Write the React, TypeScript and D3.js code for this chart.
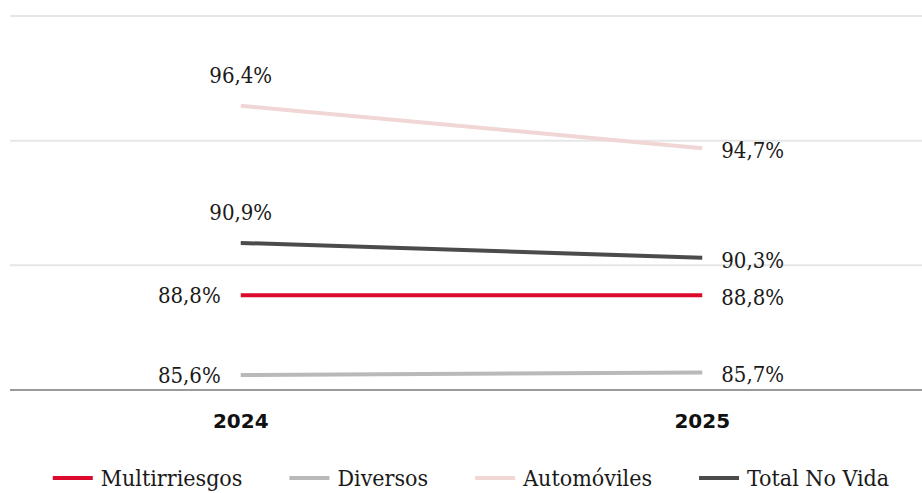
import React from "react";
import * as d3 from "d3";

const years = ["2024", "2025"];
const seriesNames = ["Multirriesgos", "Diversos", "Automóviles", "Total No Vida"];
const multirriesgos = [88.8, 88.8];
const diversos = [85.6, 85.7];
const automoviles = [96.4, 94.7];
const totalNoVida = [90.9, 90.3];
const gridTicks = [85, 90, 95, 100];

const seriesValues = [multirriesgos, diversos, automoviles, totalNoVida];
const colors = ["#dc0a2d", "#b9b9b9", "#f1d6d6", "#4b4b4b"];
const firstPlacement = ["left", "left", "above", "above"];

const W = 922;
const H = 493;
const serif = "'DejaVu Serif Condensed', 'DejaVu Serif', serif";
const sans = "'DejaVu Sans', sans-serif";

function measure(text: string, font: string): number {
  const c = document.createElement("canvas");
  const ctx = c.getContext("2d")!;
  ctx.font = font;
  return ctx.measureText(text).width;
}

export default function App() {
  const x = d3.scalePoint<string>().domain(years).range([10, 933]).padding(0.5);
  const y = d3.scaleLinear().domain([85, 100]).range([390, 16]);
  const line = d3
    .line<number>()
    .x((_, i) => x(years[i])!)
    .y((d) => y(d));
  const fmt = (v: number) => v.toFixed(1).replace(".", ",") + "%";

  const legendSize = 23;
  const legendFont = `${legendSize}px 'DejaVu Serif Condensed', 'DejaVu Serif'`;
  const sw = 40;
  const gapText = 8;
  const gapItem = 47;
  const widths = seriesNames.map((n) => sw + gapText + measure(n, legendFont));
  const total = d3.sum(widths) + gapItem * (seriesNames.length - 1);
  let cx = 471 - total / 2;
  const legendPos = widths.map((w) => {
    const p = cx;
    cx += w + gapItem;
    return p;
  });
  const legendBaseline = 486;
  const vs = 22;

  return (
    <svg width={W} height={H} style={{ position: "absolute", left: 0, top: 0 }}>
      <rect width={W} height={H} fill="#fff" />
      {gridTicks.map((t, i) => (
        <line
          key={t}
          x1={10}
          x2={W}
          y1={y(t)}
          y2={y(t)}
          stroke={i === 0 ? "#9a9a9a" : "#e6e6e6"}
          strokeWidth={2}
        />
      ))}
      {seriesValues.map((vals, si) => (
        <path key={si} d={line(vals) || ""} fill="none" stroke={colors[si]} strokeWidth={4} />
      ))}
      {seriesValues.map((vals, si) =>
        vals.map((v, i) => {
          const px = x(years[i])!;
          const py = y(v);
          if (i === 0) {
            if (firstPlacement[si] === "above") {
              return (
                <text key={`${si}-${i}`} x={px} y={py - 23} textAnchor="middle" fontFamily={serif} fontSize={vs} fill="#1a1a1a">
                  {fmt(v)}
                </text>
              );
            }
            return (
              <text key={`${si}-${i}`} x={px - 20} y={py} dy="0.35em" textAnchor="end" fontFamily={serif} fontSize={vs} fill="#1a1a1a">
                {fmt(v)}
              </text>
            );
          }
          return (
            <text key={`${si}-${i}`} x={px + 19} y={py + 2} dy="0.35em" textAnchor="start" fontFamily={serif} fontSize={vs} fill="#1a1a1a">
              {fmt(v)}
            </text>
          );
        })
      )}
      {years.map((yr) => (
        <text key={yr} x={x(yr)} y={428} textAnchor="middle" fontFamily={sans} fontWeight="bold" fontSize={20} fill="#111">
          {yr}
        </text>
      ))}
      {seriesNames.map((n, i) => (
        <g key={n} transform={`translate(${legendPos[i]},0)`}>
          <line x1={0} x2={sw} y1={legendBaseline - 8} y2={legendBaseline - 8} stroke={colors[i]} strokeWidth={4} />
          <text x={sw + gapText} y={legendBaseline} fontFamily={serif} fontSize={legendSize} fill="#1a1a1a">
            {n}
          </text>
        </g>
      ))}
    </svg>
  );
}
